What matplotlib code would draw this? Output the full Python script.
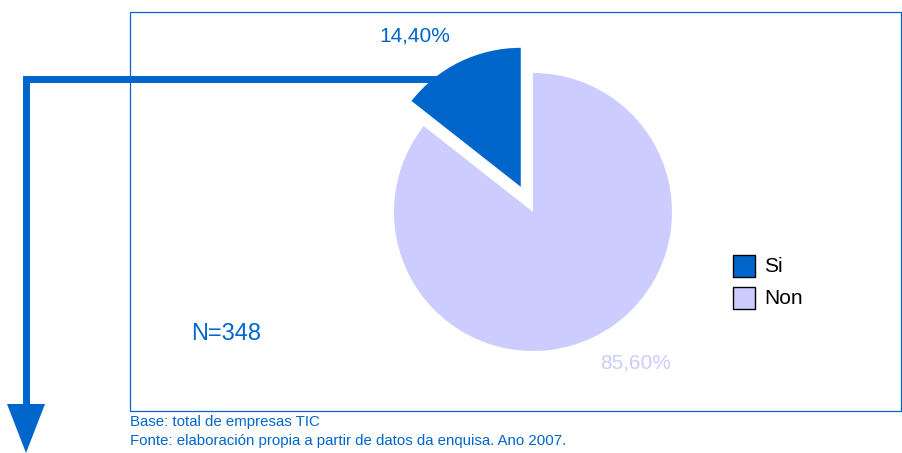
import matplotlib.pyplot as plt
from matplotlib.patches import Rectangle, Polygon

# data
labels = ['Si', 'Non']
values = [14.40, 85.60]
n_total = 348
base_txt = 'Base: total de empresas TIC'
fonte_txt = 'Fonte: elaboración propia a partir de datos da enquisa. Ano 2007.'

blue = '#0066CC'
lilac = '#CCCCFF'
colors = [blue, lilac]

plt.rcParams['font.family'] = ['Liberation Sans', 'DejaVu Sans']

W, H = 902, 453
fig = plt.figure(figsize=(W / 100, H / 100), dpi=100)
ax = fig.add_axes([0, 0, 1, 1])

def py(y):
    # pixel row -> data y
    return H - y

# frame box
ax.add_patch(Rectangle((130, py(411)), 771, 399, fill=False,
                       edgecolor=blue, linewidth=0.9, zorder=1))

# arrow going out of the small slice
ax.plot([445, 25.5, 25.5], [py(78.5), py(78.5), py(406)], color=blue,
        linewidth=5.0, solid_joinstyle='miter', solid_capstyle='butt', zorder=2)
ax.add_patch(Polygon([(7, py(404)), (45, py(404)), (26, py(453))],
                     closed=True, facecolor=blue, edgecolor='none', zorder=2))

# pie
wedges, _ = ax.pie(values, colors=colors, startangle=90, counterclock=True,
                   explode=[28, 0], radius=139, center=(533, py(212)),
                   wedgeprops=dict(linewidth=0, zorder=3))

def pct(v):
    return f'{v:.2f}'.replace('.', ',') + '%'

ax.text(415, py(36), pct(values[0]), color=blue, fontsize=15,
        ha='center', va='center', zorder=4)
ax.text(636, py(363), pct(values[1]), color=lilac, fontsize=15,
        ha='center', va='center', zorder=4)

ax.text(191, py(334), f'N={n_total}', color=blue, fontsize=17,
        ha='left', va='center', zorder=4)

# legend
for i, (lab, col) in enumerate(zip(labels, colors)):
    yc = 266 + i * 32
    ax.add_patch(Rectangle((733, py(yc + 11)), 22, 22, facecolor=col,
                           edgecolor='black', linewidth=1.0, zorder=4))
    ax.text(764, py(yc), lab, color='black', fontsize=15,
            ha='left', va='center', zorder=4)

# footer
narrow = ['Liberation Sans Narrow', 'Liberation Sans']
ax.text(130, py(422), base_txt, color=blue, fontsize=10.8, family=narrow,
        ha='left', va='center')
ax.text(130, py(441), fonte_txt, color=blue, fontsize=10.8, family=narrow,
        ha='left', va='center')

ax.set_xlim(0, W)
ax.set_ylim(0, H)
ax.set_aspect('auto')
ax.axis('off')

plt.savefig('out.png', dpi=100)
